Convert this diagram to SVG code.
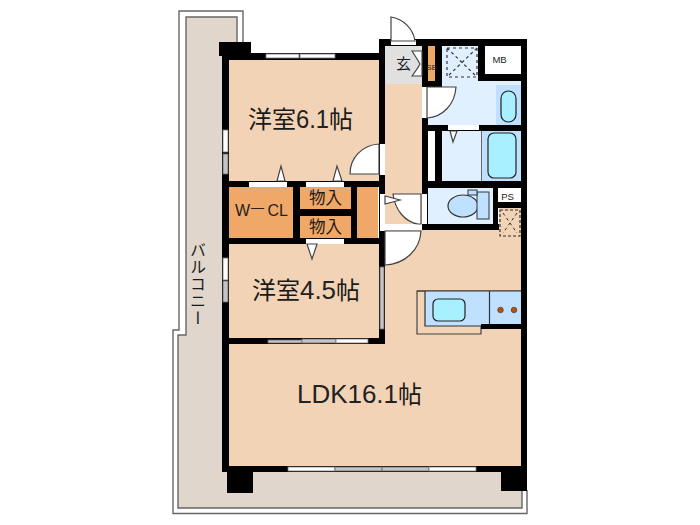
<svg xmlns="http://www.w3.org/2000/svg" width="700" height="525" viewBox="0 0 700 525">
<style>
.w{fill:#000}.f{fill:#f2d3b6}.o{fill:#f0a868}.wh{fill:#fff}.gl{fill:#fff;stroke:#777;stroke-width:.8}.gr{fill:#c4c4c4;stroke:#666;stroke-width:.8}
.dr{fill:#fff;stroke:#444;stroke-width:1.2}
.bal{fill:none;stroke:#666;stroke-width:1.4}
.j{font-family:"Noto Sans CJK JP","Liberation Sans",sans-serif;fill:#1a1a1a}
.l{font-family:"Liberation Sans",sans-serif;fill:#222}
</style>
<rect width="700" height="525" fill="#fff"/>
<g id="balcony">
<path d="M186 17H237V60H229V472H522V508H178V335H186Z" fill="#e0d6cc"/>
<path class="bal" d="M237 42V17H186V335H178V508H522V490"/>
<path class="bal" d="M243 42V11H179V330H173V513.500H527V490"/>
<text class="j" font-size="16" letter-spacing="1" x="198" y="242" style="writing-mode:vertical-rl">バルコニー</text>
</g>
<g id="floors">
<rect class="f" x="229" y="60" width="150" height="121"/>
<rect class="f" x="229" y="244" width="151" height="94"/>
<rect class="f" x="229" y="344" width="292" height="122"/>
<path class="f" d="M385 230H499V208H521V344H385Z"/>
<rect class="f" x="385" y="84" width="37" height="146"/>
<rect x="385" y="46" width="37" height="38" fill="#e0e0e0"/>
<rect class="o" x="228" y="187" width="65" height="51"/>
<rect class="o" x="300" y="187" width="51" height="22"/>
<rect class="o" x="300" y="216" width="51" height="22"/>
<rect class="o" x="357" y="187" width="21" height="51"/>
<rect class="o" x="428" y="46" width="7" height="35"/>
<path d="M442 46H521V125H428V87H442Z" fill="#e0f0ff"/>
<rect x="442" y="131" width="40" height="50" fill="#e0f0ff"/>
<rect x="482" y="131" width="39" height="50" fill="#c0e0ff"/>
<rect x="428" y="188" width="65" height="36" fill="#e0f0ff"/>
<rect x="496" y="85" width="25" height="40" fill="#c0e0ff"/>
</g>
<g id="walls">
<rect class="w" x="219" y="42" width="32" height="14"/>
<rect class="w" x="222" y="53" width="157" height="7"/>
<rect class="w" x="222" y="53" width="7" height="419"/>
<rect class="w" x="379" y="39" width="148" height="7"/>
<rect class="w" x="379" y="39" width="6" height="305"/>
<rect class="w" x="521" y="39" width="6" height="452"/>
<rect class="w" x="422" y="39" width="6" height="48"/>
<rect class="w" x="422" y="118" width="6" height="112"/>
<rect class="w" x="435" y="39" width="7" height="48"/>
<rect class="w" x="435" y="131" width="7" height="57"/>
<rect class="w" x="422" y="81" width="20" height="6"/>
<rect class="w" x="478" y="46" width="7" height="35"/>
<rect class="w" x="478" y="74" width="43" height="7"/>
<rect class="w" x="422" y="125" width="105" height="6"/>
<rect class="w" x="422" y="181" width="105" height="7"/>
<rect class="w" x="422" y="224" width="77" height="6"/>
<rect class="w" x="493" y="188" width="5" height="42"/>
<rect class="w" x="493" y="202" width="34" height="6"/>
<rect class="w" x="222" y="181" width="163" height="6"/>
<rect class="w" x="222" y="238" width="163" height="6"/>
<rect class="w" x="293" y="181" width="7" height="63"/>
<rect class="w" x="351" y="181" width="6" height="63"/>
<rect class="w" x="293" y="209" width="64" height="7"/>
<rect class="w" x="222" y="338" width="163" height="6"/>
<rect class="w" x="222" y="466" width="305" height="6"/>
<rect class="w" x="227" y="466" width="26" height="27"/>
<rect class="w" x="501" y="466" width="26" height="25"/>
</g>
<g id="openings">
<rect class="gl" x="266" y="54" width="33" height="4"/><rect class="gl" x="300" y="54" width="35" height="4"/>
<rect class="wh" x="249" y="182" width="38" height="5"/>
<rect class="wh" x="306" y="182" width="38" height="5"/>
<rect class="wh" x="306" y="239" width="38" height="5"/>
<rect class="gl" x="223" y="130" width="5" height="22"/><rect class="gr" x="223" y="154" width="5" height="20"/>
<rect class="gl" x="223" y="258" width="5" height="22"/><rect class="gr" x="223" y="281" width="5" height="21"/>
<rect class="gr" x="268" y="340" width="52" height="3"/><rect class="gr" x="302" y="339" width="34" height="4"/><rect class="gl" x="336" y="339" width="32" height="4"/>
<rect class="gl" x="288" y="467" width="47" height="4"/><rect class="gr" x="335" y="467" width="47" height="4"/><rect class="gr" x="382" y="467" width="47" height="4"/><rect class="gl" x="429" y="467" width="47" height="4"/>
<rect class="gr" x="380" y="267" width="4" height="62"/>
<rect class="wh" x="380" y="144" width="5" height="31"/>
<rect class="wh" x="380" y="194" width="5" height="37"/>
<rect class="wh" x="385" y="224" width="37" height="6"/>
<rect class="wh" x="422" y="194" width="5" height="30"/>
<rect class="wh" x="428" y="131" width="7" height="50"/>
<rect class="wh" x="422" y="87" width="5" height="31"/>
<rect class="wh" x="391" y="40" width="25" height="5"/>
<rect class="wh" x="448" y="125" width="31" height="5"/>
</g>
<g id="doors">
<path class="dr" d="M391 41V17C403 19 413 28 415 41Z"/>
<path class="dr" d="M427 87H456C455 104 443 117 427 118Z"/>
<path class="dr" d="M379 144V174H350C350 158 362 145 379 144Z"/>
<path class="dr" d="M393 194H421V224H418C405 222 395 210 393 194Z"/>
<path class="dr" d="M385 231H421C420 250 405 264 385 265Z"/>
<path class="dr" d="M277 181L281 166L285 181Z"/>
<path class="dr" d="M333 181L337 166L342 181Z"/>
<path class="dr" d="M307 244H317L312 259Z"/>
<path class="dr" d="M385 196L400 200L385 204Z"/>
<path class="dr" d="M450 131H457L453 142Z"/>
<path class="dr" d="M422 51H412C415 56 418 60 420 64C418 68 415 72 412 76H422Z" stroke-width="1"/>
</g>
<g id="fixtures">
<path d="M447 48H477V77H447Z M447 48L477 77M477 48L447 77" fill="none" stroke="#333" stroke-width="1.2" stroke-dasharray="3 3"/>
<rect x="485" y="46" width="36" height="28" fill="#fff"/>
<rect x="498" y="188" width="23" height="14" fill="#fff"/>
<rect x="501" y="91" width="15" height="31" rx="7.500" fill="#a8f0ff" stroke="#222" stroke-width="1.2"/>
<line x1="481.500" y1="131" x2="481.500" y2="181" stroke="#666"/>
<rect x="488" y="133" width="28" height="45" rx="6" fill="#a8f0ff" stroke="#222" stroke-width="1.2"/>
<ellipse cx="463" cy="206" rx="15" ry="11" fill="#c0e0ff" stroke="#333" stroke-width="1.2"/>
<rect x="477" y="192" width="12" height="27" fill="#c0e0ff" stroke="#333"/>
<rect x="468" y="190" width="9" height="5" fill="#c0e0ff" stroke="#333"/>
<rect x="500" y="210" width="20" height="26" fill="#f2d3b6" stroke="#333" stroke-dasharray="3 2" stroke-width="1.2"/>
<path d="M503 213L517 233M517 213L503 233" stroke="#333" stroke-dasharray="3 3" fill="none"/>
<path d="M521 291H417V334H481V326" fill="none" stroke="#444" stroke-width="1.2"/>
<rect x="425" y="291" width="96" height="35" fill="#c0e0ff"/>
<path d="M425 291V326H481" fill="none" stroke="#333" stroke-width="1.2"/>
<path d="M417 291H521" stroke="#333" stroke-width="1.2"/>
<line x1="489.500" y1="291" x2="489.500" y2="324" stroke="#333" stroke-width="1.2"/>
<rect class="w" x="481" y="324" width="46" height="5"/>
<rect x="433" y="299" width="32" height="22" rx="5" fill="#a8f0ff" stroke="#222" stroke-width="1.2"/>
<circle cx="500.500" cy="310" r="2.800" fill="#c05000" stroke="#333" stroke-width=".6"/>
<circle cx="514" cy="310" r="2.800" fill="#c05000" stroke="#333" stroke-width=".6"/>
</g>
<g id="labels">
<text class="j" x="248" y="128" font-size="24">洋室</text><text class="l" x="296" y="128" font-size="25" textLength="33" lengthAdjust="spacingAndGlyphs">6.1</text><text class="j" x="329" y="128" font-size="24">帖</text>
<text class="j" x="252" y="299" font-size="24">洋室</text><text class="l" x="300" y="299" font-size="25" textLength="36" lengthAdjust="spacingAndGlyphs">4.5</text><text class="j" x="336" y="299" font-size="24">帖</text>
<text class="l" x="297" y="403" font-size="25" textLength="101" lengthAdjust="spacingAndGlyphs">LDK16.1</text><text class="j" x="398" y="403" font-size="24">帖</text>
<text class="l" x="235" y="216" font-size="16">W<tspan x="251" dy="-4" font-size="13">—</tspan><tspan x="267.500" dy="4" font-size="16">CL</tspan></text>
<text class="j" x="309" y="204" font-size="16.500">物入</text>
<text class="j" x="309" y="233" font-size="16.500">物入</text>
<text class="j" x="396" y="69" font-size="15">玄</text>
<text class="l" x="431.500" y="70" font-size="8" text-anchor="middle" fill="#555">SB</text>
<text class="l" x="499.500" y="63" font-size="9.500" text-anchor="middle">MB</text>
<text class="l" x="507.500" y="200" font-size="9.500" text-anchor="middle">PS</text>
</g>
</svg>
